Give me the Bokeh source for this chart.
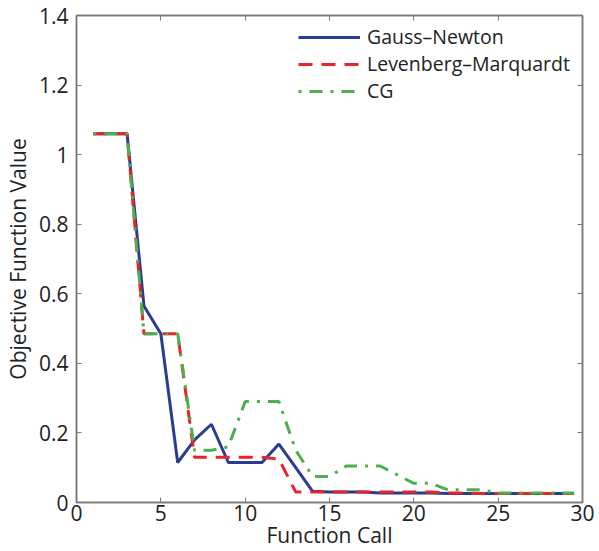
from bokeh.plotting import figure
from bokeh.models import LinearAxis, Range1d, Legend, LegendItem, FixedTicker
from bokeh.embed import file_html
from bokeh.resources import INLINE

calls = [1, 2, 3, 4, 5, 6, 7, 8, 9, 10, 11, 12, 13, 14, 15, 16, 17, 18, 19, 20,
         21, 22, 23, 24, 25, 26, 27, 28, 29, 29.5]
gauss_newton = [1.06, 1.06, 1.06, 0.565, 0.485, 0.115, 0.18, 0.225, 0.115, 0.115,
                0.115, 0.168, 0.10, 0.032, 0.03, 0.03, 0.03, 0.027, 0.027, 0.027,
                0.027, 0.026, 0.026, 0.026, 0.026, 0.026, 0.026, 0.026, 0.026, 0.026]
levenberg = [1.06, 1.06, 1.06, 0.485, 0.485, 0.485, 0.13, 0.13, 0.13, 0.13,
             0.13, 0.125, 0.03, 0.03, 0.03, 0.03, 0.03, 0.03, 0.03, 0.03,
             0.03, 0.027, 0.027, 0.026, 0.026, 0.026, 0.026, 0.026, 0.026, 0.026]
cg = [1.06, 1.06, 1.06, 0.485, 0.485, 0.485, 0.15, 0.15, 0.16, 0.29,
      0.29, 0.29, 0.15, 0.075, 0.075, 0.105, 0.105, 0.105, 0.08, 0.055,
      0.055, 0.037, 0.037, 0.037, 0.027, 0.027, 0.027, 0.027, 0.027, 0.027]
x_ticks = [0, 5, 10, 15, 20, 25, 30]
y_ticks = [0, 0.2, 0.4, 0.6, 0.8, 1.0, 1.2, 1.4]
y_tick_labels = {0: "0", 0.2: "0.2", 0.4: "0.4", 0.6: "0.6", 0.8: "0.8", 1.0: "1", 1.2: "1.2", 1.4: "1.4"}

FONT = "Open Sans"
AX = "#7a7a7a"
FS = "21px"

p = figure(width=599, height=551, output_backend="svg", toolbar_location=None,
           x_range=Range1d(0, 30), y_range=Range1d(0, 1.4),
           min_border_left=76, min_border_right=17, min_border_top=15, min_border_bottom=49,
           x_axis_label="Function Call", y_axis_label="Objective Function Value")
p.grid.visible = False
p.outline_line_color = AX
p.outline_line_width = 1.5
p.background_fill_color = "white"
p.border_fill_color = "white"

for ax in (p.xaxis[0], p.yaxis[0]):
    ax.axis_line_color = AX
    ax.axis_line_width = 1.5
    ax.major_tick_line_color = AX
    ax.major_tick_in = 5
    ax.major_tick_out = 0
    ax.minor_tick_line_color = None
    ax.major_label_text_font = FONT
    ax.major_label_text_font_size = FS
    ax.major_label_text_color = "#222222"
    ax.axis_label_text_font = FONT
    ax.axis_label_text_font_size = FS
    ax.axis_label_text_font_style = "normal"
    ax.axis_label_text_color = "#222222"
p.xaxis[0].ticker = FixedTicker(ticks=x_ticks)
p.yaxis[0].ticker = FixedTicker(ticks=y_ticks)
p.yaxis[0].major_label_overrides = y_tick_labels
p.xaxis[0].major_label_standoff = 2
p.xaxis[0].axis_label_standoff = -3
p.yaxis[0].major_label_standoff = 8
p.yaxis[0].axis_label_standoff = 4

for loc, tick in (("right", y_ticks), ("above", x_ticks)):
    a = LinearAxis(ticker=FixedTicker(ticks=tick))
    a.axis_line_color = AX
    a.axis_line_width = 1.5
    a.major_tick_line_color = AX
    a.major_tick_in = 5
    a.major_tick_out = 0
    a.minor_tick_line_color = None
    a.major_label_text_font_size = "0px"
    a.major_label_text_color = None
    a.major_label_standoff = 0
    p.add_layout(a, loc)

r_gn = p.line(calls, gauss_newton, line_color="#2a3d90", line_width=3)
r_lm = p.line(calls, levenberg, line_color="#e8232a", line_width=3, line_dash="14 9")
r_cg = p.line(calls, cg, line_color="#4cae4c", line_width=3, line_dash="3 8 13 8")

legend = Legend(items=[LegendItem(label="Gauss\u2013Newton", renderers=[r_gn]),
                       LegendItem(label="Levenberg\u2013Marquardt", renderers=[r_lm]),
                       LegendItem(label="CG", renderers=[r_cg])],
                location=(222, 398), border_line_color=None, background_fill_alpha=0,
                label_text_font=FONT, label_text_font_size="19.5px", label_text_color="#222222",
                glyph_width=62, glyph_height=24, label_height=24, label_standoff=7,
                spacing=0, padding=0, margin=0)
p.add_layout(legend)

open("out.html", "w").write(file_html(p, INLINE))
